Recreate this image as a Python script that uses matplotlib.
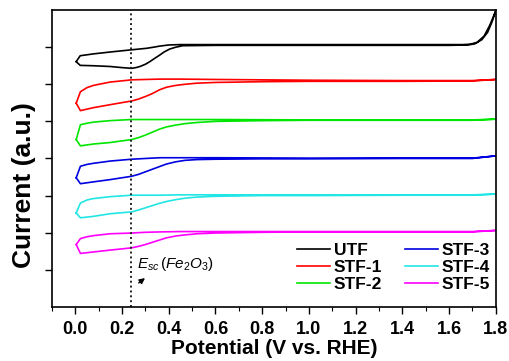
import numpy as np
import matplotlib
matplotlib.use("Agg")
import matplotlib.pyplot as plt

plt.rcParams['font.family'] = ['Liberation Sans', 'DejaVu Sans']
plt.rcParams['mathtext.fontset'] = 'custom'
plt.rcParams['mathtext.it'] = 'Liberation Sans:italic'
plt.rcParams['mathtext.rm'] = 'Liberation Sans'
plt.rcParams['mathtext.bf'] = 'Liberation Sans:bold'

# potential path of the CV loop (forward scan then reverse scan), V vs. RHE
E_loop = [0.004, 0.022, 0.05, 0.078, 0.149, 0.241, 0.30, 0.362, 0.45, 0.6, 1.0, 1.4, 1.7, 1.8,
          1.7, 1.4, 1.0, 0.8, 0.6, 0.52, 0.47, 0.43, 0.39, 0.36, 0.33, 0.30, 0.27, 0.241, 0.149, 0.078, 0.022, 0.004]

stf1 = [5.49, 5.80, 5.91, 5.97, 6.06, 6.12, 6.13, 6.14, 6.14, 6.13, 6.11, 6.10, 6.10, 6.13,
        6.09, 6.08, 6.08, 6.07, 6.05, 6.03, 6.00, 5.97, 5.92, 5.85, 5.75, 5.67, 5.60, 5.55, 5.45, 5.37, 5.29, 5.49]
stf2 = [4.51, 4.91, 4.95, 4.98, 5.02, 5.05, 5.05, 5.05, 5.05, 5.05, 5.04, 5.04, 5.04, 5.06,
        5.03, 5.03, 5.03, 5.02, 5.00, 4.97, 4.94, 4.90, 4.85, 4.79, 4.71, 4.63, 4.56, 4.51, 4.43, 4.39, 4.34, 4.51]
stf3 = [3.48, 3.79, 3.84, 3.87, 3.93, 3.98, 4.00, 4.02, 4.02, 4.02, 4.01, 4.01, 4.01, 4.07,
        4.00, 4.00, 3.99, 3.99, 3.98, 3.97, 3.95, 3.91, 3.85, 3.78, 3.71, 3.64, 3.57, 3.52, 3.43, 3.37, 3.32, 3.48]
stf4 = [2.53, 2.80, 2.88, 2.92, 2.97, 3.01, 3.01, 3.01, 3.02, 3.02, 3.02, 3.02, 3.02, 3.04,
        3.01, 3.01, 3.00, 3.00, 2.98, 2.96, 2.93, 2.89, 2.84, 2.79, 2.73, 2.67, 2.61, 2.56, 2.51, 2.44, 2.40, 2.53]
stf5 = [1.68, 1.84, 1.89, 1.92, 1.97, 1.99, 2.01, 2.02, 2.03, 2.03, 2.03, 2.03, 2.03, 2.06,
        2.02, 2.02, 2.02, 2.01, 1.99, 1.97, 1.94, 1.91, 1.86, 1.80, 1.74, 1.68, 1.63, 1.59, 1.53, 1.48, 1.44, 1.68]

# UTF has the OER onset near 1.8 V, so it gets its own potential path
E_utf = [0.004, 0.021, 0.078, 0.149, 0.241, 0.305, 0.335, 0.362, 0.40, 0.447, 0.8, 1.2, 1.6, 1.66, 1.69, 1.72, 1.75, 1.775, 1.8,
         1.785, 1.765, 1.74, 1.71, 1.68, 1.6, 1.2, 0.8, 0.6, 0.46, 0.43, 0.404, 0.38, 0.362, 0.34, 0.319, 0.30,
         0.277, 0.26, 0.241, 0.20, 0.149, 0.078, 0.021, 0.004]
utf = [6.61, 6.77, 6.82, 6.87, 6.93, 6.97, 7.00, 7.03, 7.06, 7.07, 7.07, 7.07, 7.07, 7.07, 7.08, 7.13, 7.30, 7.60, 7.98,
       7.70, 7.40, 7.20, 7.09, 7.06, 7.05, 7.05, 7.05, 7.05, 7.04, 7.00, 6.95, 6.87, 6.79, 6.70, 6.61, 6.54,
       6.48, 6.45, 6.43, 6.45, 6.48, 6.50, 6.51, 6.61]

labels = ['UTF', 'STF-1', 'STF-2', 'STF-3', 'STF-4', 'STF-5']
colors = ['black', '#ff0000', '#00e600', '#0000e0', '#22e6e6', '#ff00ff']
E_sc = 0.24

fig = plt.figure(figsize=(5.09, 3.61), dpi=100)
ax = fig.add_axes([0.102, 0.150, 0.872, 0.822])

curves = [(E_utf, utf), (E_loop, stf1), (E_loop, stf2), (E_loop, stf3), (E_loop, stf4), (E_loop, stf5)]
for (e, i), lab, c in zip(curves, labels, colors):
    ax.plot(e, i, color=c, lw=1.2, label=lab)

ax.axvline(E_sc, color='#222222', lw=1.4, linestyle=(0, (1, 1.5)))
ax.annotate('', xy=(0.308, 0.82), xytext=(0.262, 0.60),
            arrowprops=dict(arrowstyle='-|>', color='black', lw=1.0, mutation_scale=8))
ax.text(0.265, 1.16, r'$E_{sc}\,(Fe_2O_3)$', fontsize=11, va='center', ha='left')

ax.set_xlim(-0.1, 1.8)
ax.set_ylim(0, 8)
ax.set_xticks(np.arange(0, 1.81, 0.2))
ax.set_xticks(np.arange(-0.1, 1.81, 0.1), minor=True)
ax.set_xticklabels(['%.1f' % v for v in np.arange(0, 1.81, 0.2)], fontsize=13, fontweight='bold')
ax.set_yticks(range(1, 8))
ax.set_yticklabels([])
ax.tick_params(axis='both', which='major', direction='out', length=5, width=1.0)
ax.tick_params(axis='x', which='major', pad=5)
ax.tick_params(axis='x', which='minor', direction='out', length=3, width=0.8)
for s in ax.spines.values():
    s.set_linewidth(1.2)

ax.set_xlabel('Potential (V vs. RHE)', fontsize=15, fontweight='bold', labelpad=1)
ax.set_ylabel('Current (a.u.)', fontsize=19, fontweight='bold')
ax.yaxis.set_label_coords(-0.035, 0.41)

leg = ax.legend(ncol=2, loc='upper left', bbox_to_anchor=(0.545, 0.228), frameon=False,
                prop={'weight': 'bold', 'size': 12.5}, handlelength=1.9, handletextpad=0.2,
                columnspacing=1.3, labelspacing=0.12, borderaxespad=0, borderpad=0.2)

fig.savefig('out.png', dpi=100)
